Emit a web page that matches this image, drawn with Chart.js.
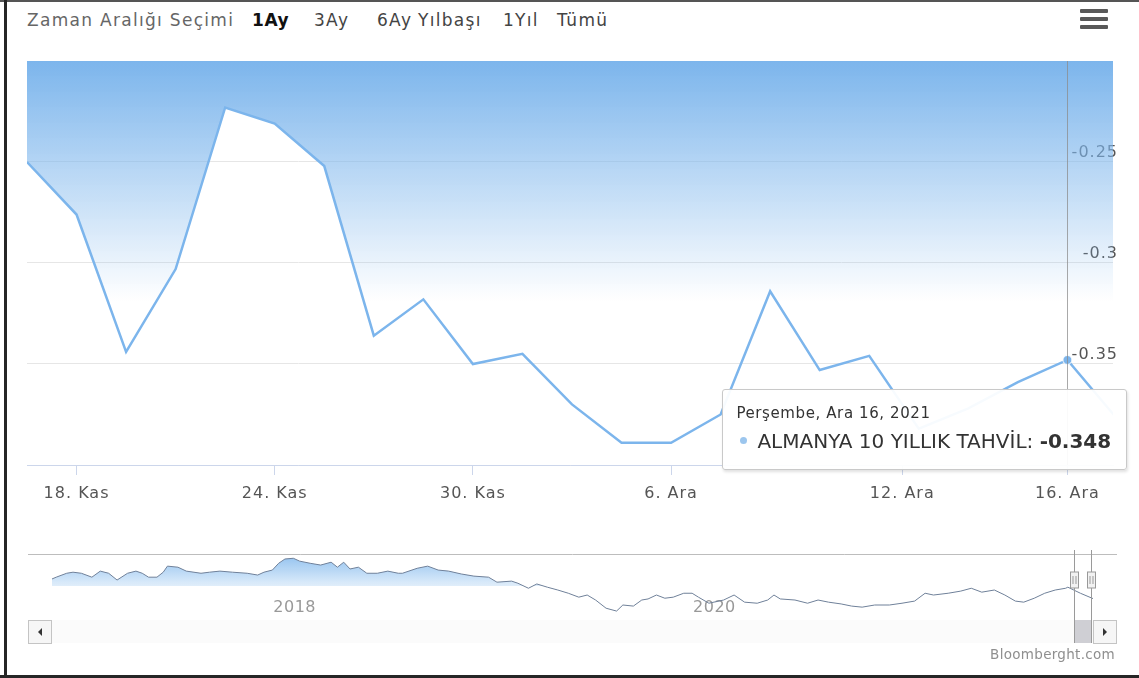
<!DOCTYPE html>
<html lang="tr">
<head>
<meta charset="utf-8">
<title>Almanya 10 Yıllık Tahvil</title>
<script src="https://cdn.jsdelivr.net/npm/chart.js@4.4.1/dist/chart.umd.min.js"></script>
<style>
    html, body { margin: 0; padding: 0; background: #fff; }
    #frame { position: relative; width: 1139px; height: 678px; overflow: hidden; background: #fff; font-family: "DejaVu Sans", sans-serif; }
    .edge { position: absolute; background: #262626; }
    #rangeBar span { position: absolute; top: 9px; font-size: 17px; letter-spacing: 1.3px; color: #444; line-height: 22px; white-space: nowrap; }
    #rangeBar .caption { color: #666; }
    #rangeBar .selected { color: #111; font-weight: bold; letter-spacing: 0.6px; }
    .menu-bar { position: absolute; left: 1080px; width: 28px; height: 4px; background: #595959; border-radius: 1px; }
    #mainChart { position: absolute; left: 0; top: 0; }
    #navChart { position: absolute; left: 0; top: 540px; }
    #credits { position: absolute; right: 24px; top: 646px; font-size: 13.5px; color: #8f8f8f; letter-spacing: 0.3px; }
    #tip { position: absolute; display: none; z-index: 5; background: rgba(255,255,255,0.94); border: 1px solid #c9c9c9; border-radius: 3px;
           box-shadow: 1px 2px 3px rgba(0,0,0,0.12); padding: 13px 15px 15px 13px; color: #333; white-space: nowrap; }
    #tip .tip-title { font-size: 15px; line-height: 20px; letter-spacing: 0.6px; color: #333; }
    #tip .tip-body { font-size: 20px; line-height: 26px; margin-top: 5px; }
    #tip .tip-dot { display: inline-block; width: 7px; height: 7px; border-radius: 50%; background: #9cc6ee; margin: 0 10px 0 4px; vertical-align: middle; position: relative; top: -2px; }
    #tip .tip-value { font-weight: bold; }
</style>
</head>
<body>
<div id="frame">
    <div class="edge" style="left:0;top:0;width:1139px;height:2px;background:#555;"></div>
    <div class="edge" style="left:4px;top:0;width:3px;height:678px;"></div>
    <div class="edge" style="left:0;top:675px;width:1139px;height:3px;"></div>

    <div id="rangeBar">
        <span class="caption" style="left:27px">Zaman Aralığı Seçimi</span>
        <span class="selected" style="left:252px">1Ay</span>
        <span style="left:314px">3Ay</span>
        <span style="left:377px">6Ay</span>
        <span style="left:418px">Yılbaşı</span>
        <span style="left:503px">1Yıl</span>
        <span style="left:557px">Tümü</span>
    </div>
    <div class="menu-bar" style="top:9px"></div>
    <div class="menu-bar" style="top:17px"></div>
    <div class="menu-bar" style="top:25px"></div>

    <canvas id="mainChart" width="1139" height="520"></canvas>
    <canvas id="navChart" width="1139" height="110"></canvas>

    <div id="tip">
        <div class="tip-title"></div>
        <div class="tip-body"><span class="tip-dot"></span><span class="tip-name"></span><span class="tip-value"></span></div>
    </div>
    <div id="credits">Bloomberght.com</div>
</div>

<script>
// Günlük kapanışlar (17 Kas - 17 Ara 2021, sadece işlem günleri)
const dates = [
    "2021-11-17", "2021-11-18", "2021-11-19", "2021-11-22", "2021-11-23", "2021-11-24",
    "2021-11-25", "2021-11-26", "2021-11-29", "2021-11-30", "2021-12-01", "2021-12-02",
    "2021-12-03", "2021-12-06", "2021-12-07", "2021-12-08", "2021-12-09", "2021-12-10",
    "2021-12-13", "2021-12-14", "2021-12-15", "2021-12-16", "2021-12-17"
];
const yields = [
    -0.250, -0.276, -0.344, -0.303, -0.223, -0.231,
    -0.252, -0.336, -0.318, -0.350, -0.345, -0.370,
    -0.389, -0.389, -0.375, -0.314, -0.353, -0.346,
    -0.382, -0.372, -0.359, -0.348, -0.377
];
const seriesName = "ALMANYA 10 YILLIK TAHVİL";
const activeIndex = 21;            // tooltip: 16 Ara
const visibleDays = 21.92;         // 1Ay penceresinin sağ kenarı (işlem günü indeksi)

// x ekseni etiketleri (işlem günü indeksine göre; 12 Ara pazar günü -> 10 ve 13 Ara arası)
const xTickPositions = [1, 5, 9, 13, 17.667, 21];
const xTickLabels = ["18. Kas", "24. Kas", "30. Kas", "6. Ara", "12. Ara", "16. Ara"];

// y ekseni
const yGridValues = [-0.4, -0.35, -0.3, -0.25, -0.2];
const yGridLabels = ["", "-0.35", "-0.3", "-0.25", ""];

// Navigator: tüm geçmiş (yıl, getiri)
const navYears = [
    2016.96, 2016.98, 2017.03, 2017.06, 2017.10, 2017.15, 2017.19, 2017.23, 2017.27, 2017.32, 2017.36, 2017.39,
    2017.42, 2017.46, 2017.49, 2017.51, 2017.56, 2017.60, 2017.67, 2017.71, 2017.76, 2017.82, 2017.89, 2017.94,
    2017.97, 2018.01, 2018.04, 2018.07, 2018.11, 2018.14, 2018.19, 2018.24, 2018.29, 2018.32, 2018.35, 2018.38,
    2018.42, 2018.46, 2018.51, 2018.56, 2018.61, 2018.63, 2018.70, 2018.75, 2018.80, 2018.85, 2018.91, 2018.97,
    2019.04, 2019.08, 2019.15, 2019.18, 2019.23, 2019.27, 2019.32, 2019.37, 2019.42, 2019.47, 2019.51, 2019.55,
    2019.60, 2019.65, 2019.68, 2019.73, 2019.77, 2019.80, 2019.84, 2019.88, 2019.92, 2019.97, 2020.01, 2020.04,
    2020.09, 2020.16, 2020.21, 2020.26, 2020.32, 2020.37, 2020.40, 2020.43, 2020.50, 2020.56, 2020.61, 2020.66,
    2020.72, 2020.77, 2020.82, 2020.88, 2020.95, 2021.01, 2021.07, 2021.12, 2021.16, 2021.23, 2021.29, 2021.34,
    2021.39, 2021.45, 2021.50, 2021.55, 2021.59, 2021.64, 2021.69, 2021.74, 2021.79, 2021.80, 2021.86, 2021.92
];
const navValues = [
    0.20, 0.25, 0.36, 0.39, 0.36, 0.25, 0.42, 0.36, 0.17, 0.36, 0.42, 0.36,
    0.25, 0.25, 0.39, 0.56, 0.53, 0.42, 0.36, 0.39, 0.42, 0.39, 0.36, 0.31,
    0.39, 0.45, 0.64, 0.76, 0.78, 0.70, 0.64, 0.59, 0.67, 0.53, 0.67, 0.48,
    0.53, 0.36, 0.36, 0.42, 0.36, 0.36, 0.50, 0.56, 0.45, 0.42, 0.34, 0.28,
    0.25, 0.11, 0.14, 0.08, -0.06, 0.06, -0.03, -0.11, -0.20, -0.31, -0.25, -0.39,
    -0.62, -0.70, -0.53, -0.56, -0.39, -0.36, -0.25, -0.34, -0.31, -0.20, -0.20, -0.31,
    -0.48, -0.39, -0.25, -0.45, -0.48, -0.39, -0.25, -0.36, -0.39, -0.48, -0.39, -0.45,
    -0.50, -0.56, -0.59, -0.53, -0.53, -0.48, -0.42, -0.20, -0.25, -0.20, -0.14, -0.06,
    -0.17, -0.11, -0.25, -0.42, -0.45, -0.34, -0.20, -0.11, -0.06, -0.03, -0.20, -0.35
];
const navTickYears = [2018, 2020];
const navWindow = [2021.83, 2021.91];  // seçili 1Ay aralığı

const dayNames = ["Pazar", "Pazartesi", "Salı", "Çarşamba", "Perşembe", "Cuma", "Cumartesi"];
const monthNames = ["Oca", "Şub", "Mar", "Nis", "May", "Haz", "Tem", "Ağu", "Eyl", "Eki", "Kas", "Ara"];

Chart.defaults.font.family = '"DejaVu Sans", sans-serif';

function longDate(iso) {
    const [y, m, d] = iso.split("-").map(Number);
    const dt = new Date(Date.UTC(y, m - 1, d));
    return dayNames[dt.getUTCDay()] + ", " + monthNames[m - 1] + " " + d + ", " + y;
}

// Highcharts benzeri HTML tooltip
function externalTooltip(context) {
    const tip = document.getElementById("tip");
    const model = context.tooltip;
    if (!model || model.opacity === 0 || !model.dataPoints || !model.dataPoints.length) {
        tip.style.display = "none";
        return;
    }
    const dp = model.dataPoints[0];
    tip.querySelector(".tip-title").textContent = longDate(dates[dp.dataIndex]);
    tip.querySelector(".tip-name").textContent = dp.dataset.label + ": ";
    tip.querySelector(".tip-value").textContent = dp.parsed.y.toFixed(3);
    tip.style.display = "block";
    const canvas = context.chart.canvas;
    tip.style.left = (canvas.offsetLeft + model.caretX + 60 - tip.offsetWidth) + "px";
    tip.style.top = (canvas.offsetTop + model.caretY + 29) + "px";
}

// dikey crosshair çizgisi
const crosshairPlugin = {
    id: "crosshair",
    afterDatasetsDraw(chart) {
        const active = chart.getActiveElements();
        if (!active.length) return;
        const { ctx, chartArea } = chart;
        const x = Math.round(active[0].element.x) + 0.5;
        ctx.save();
        ctx.strokeStyle = "rgba(140,140,140,0.75)";
        ctx.lineWidth = 1;
        ctx.beginPath();
        ctx.moveTo(x, chartArea.top);
        ctx.lineTo(x, chartArea.bottom);
        ctx.stroke();
        ctx.restore();
    }
};

const letterSpacingPlugin = {
    id: "letterSpacing",
    beforeDraw(chart, args, opts) { chart.ctx.letterSpacing = opts.value || "0px"; }
};

const mainCtx = document.getElementById("mainChart").getContext("2d");
const mainChart = new Chart(mainCtx, {
    type: "line",
    data: {
        datasets: [{
            label: seriesName,
            data: yields.map((v, i) => ({ x: i, y: v })),
            borderColor: "#7cb5ec",
            borderWidth: 2.5,
            tension: 0,
            pointRadius: 0,
            pointHoverRadius: 4.5,
            pointHoverBackgroundColor: "#7cb5ec",
            pointHoverBorderColor: "#ffffff",
            pointHoverBorderWidth: 1,
            fill: "end",
            backgroundColor: function (c) {
                const area = c.chart.chartArea;
                if (!area) return "rgba(124,181,236,0.4)";
                const g = c.chart.ctx.createLinearGradient(0, area.top, 0, area.top + 240);
                g.addColorStop(0, "rgba(124,181,236,1)");
                g.addColorStop(0.45, "rgba(124,181,236,0.55)");
                g.addColorStop(1, "rgba(124,181,236,0)");
                return g;
            }
        }]
    },
    options: {
        responsive: false,
        animation: false,
        events: [],
        layout: { padding: { left: 27, right: 26, top: 61, bottom: 15 } },
        plugins: {
            legend: { display: false },
            letterSpacing: { value: "1px" },
            tooltip: { enabled: false, external: externalTooltip, mode: "nearest", intersect: false }
        },
        scales: {
            x: {
                type: "linear",
                min: 0,
                max: visibleDays,
                afterBuildTicks: s => { s.ticks = xTickPositions.map(v => ({ value: v })); },
                afterFit: s => { s.height = 40; },
                ticks: {
                    autoSkip: false,
                    maxRotation: 0,
                    padding: 9,
                    color: "#555",
                    font: { size: 16 },
                    callback: (v, i) => xTickLabels[i]
                },
                grid: { drawOnChartArea: false, drawTicks: true, tickLength: 10, color: "#ccd6eb" },
                border: { color: "#ccd6eb" }
            },
            y: {
                position: "right",
                min: yGridValues[0],
                max: yGridValues[yGridValues.length - 1],
                afterBuildTicks: s => { s.ticks = yGridValues.map(v => ({ value: v })); },
                afterFit: s => { s.width = 0; },
                ticks: {
                    mirror: true,
                    padding: 5,
                    labelOffset: -9,
                    color: "#555",
                    font: { size: 16 },
                    callback: (v, i) => yGridLabels[i]
                },
                grid: { color: "#e6e6e6", drawTicks: false },
                border: { display: false }
            }
        }
    },
    plugins: [crosshairPlugin, letterSpacingPlugin]
});

const hoverTarget = [{ datasetIndex: 0, index: activeIndex }];
const hoverPoint = mainChart.getDatasetMeta(0).data[activeIndex];
mainChart.setActiveElements(hoverTarget);
mainChart.tooltip.setActiveElements(hoverTarget, { x: hoverPoint.x, y: hoverPoint.y });
mainChart.update();

// navigator + scrollbar süsleri
const navigatorDecor = {
    id: "navigatorDecor",
    afterDraw(chart) {
        const { ctx, chartArea: a, scales } = chart;
        const x0 = Math.round(scales.x.getPixelForValue(navWindow[0])) + 0.5;
        const x1 = Math.round(scales.x.getPixelForValue(navWindow[1])) + 0.5;
        const btn = 24;
        const sbTop = a.bottom + 5;
        const sbH = 23;
        ctx.save();
        ctx.letterSpacing = "0px";
        // scrollbar track
        ctx.fillStyle = "#fbfbfb";
        ctx.fillRect(a.left, sbTop, a.right - a.left, sbH);
        // thumb
        ctx.fillStyle = "#cfcfd4";
        ctx.fillRect(x0, sbTop, x1 - x0, sbH);
        // outline + handle lines
        ctx.lineWidth = 1;
        ctx.strokeStyle = "#bdbdbd";
        ctx.beginPath();
        ctx.moveTo(a.left - btn, a.top + 0.5);
        ctx.lineTo(a.right + btn, a.top + 0.5);
        ctx.stroke();
        ctx.strokeStyle = "#9a9a9a";
        ctx.beginPath();
        [x0, x1].forEach(x => { ctx.moveTo(x, a.top - 4); ctx.lineTo(x, sbTop + sbH); });
        ctx.stroke();
        // buttons
        [[a.left - btn, 1], [a.right, -1]].forEach(([bx, dir]) => {
            ctx.fillStyle = "#f6f6f6";
            ctx.strokeStyle = "#c4c4c4";
            ctx.fillRect(bx + 0.5, sbTop + 0.5, btn - 1, sbH);
            ctx.strokeRect(bx + 0.5, sbTop + 0.5, btn - 1, sbH);
            const cx = bx + btn / 2, cy = sbTop + sbH / 2 + 0.5;
            ctx.fillStyle = "#333";
            ctx.beginPath();
            ctx.moveTo(cx - 2 * dir, cy);
            ctx.lineTo(cx + 2 * dir, cy - 4);
            ctx.lineTo(cx + 2 * dir, cy + 4);
            ctx.closePath();
            ctx.fill();
        });
        // handles
        const hy = a.top + 18;
        [x0, x1].forEach(x => {
            ctx.fillStyle = "#f2f2f2";
            ctx.strokeStyle = "#999";
            ctx.fillRect(x - 4, hy, 8, 16);
            ctx.strokeRect(x - 4, hy, 8, 16);
            ctx.beginPath();
            ctx.moveTo(x - 1.5, hy + 4); ctx.lineTo(x - 1.5, hy + 12);
            ctx.moveTo(x + 1.5, hy + 4); ctx.lineTo(x + 1.5, hy + 12);
            ctx.stroke();
        });
        ctx.restore();
    }
};

const navCtx = document.getElementById("navChart").getContext("2d");
const navGradient = navCtx.createLinearGradient(0, 14, 0, 58);
navGradient.addColorStop(0, "rgba(124,181,236,0.85)");
navGradient.addColorStop(1, "rgba(124,181,236,0)");

new Chart(navCtx, {
    type: "line",
    data: {
        datasets: [{
            data: navYears.map((x, i) => ({ x: x, y: navValues[i] })),
            borderColor: "#6f8099",
            borderWidth: 1,
            tension: 0,
            pointRadius: 0,
            fill: { target: { value: 0 }, above: navGradient, below: "rgba(255,255,255,0)" }
        }]
    },
    options: {
        responsive: false,
        animation: false,
        events: [],
        layout: { padding: { left: 52, right: 46, top: 14, bottom: 35 } },
        plugins: { legend: { display: false }, tooltip: { enabled: false }, letterSpacing: { value: "0.5px" } },
        scales: {
            x: {
                type: "linear",
                min: navYears[0],
                max: navYears[navYears.length - 1],
                afterBuildTicks: s => { s.ticks = navTickYears.map(v => ({ value: v })); },
                afterFit: s => { s.height = 0; },
                ticks: { mirror: true, align: "start", labelOffset: 3, padding: -2, color: "#999", font: { size: 16 }, callback: v => String(v) },
                grid: { display: false },
                border: { display: false }
            },
            y: { display: false, min: -0.81, max: 0.9 }
        }
    },
    plugins: [letterSpacingPlugin, navigatorDecor]
});
</script>
</body>
</html>
